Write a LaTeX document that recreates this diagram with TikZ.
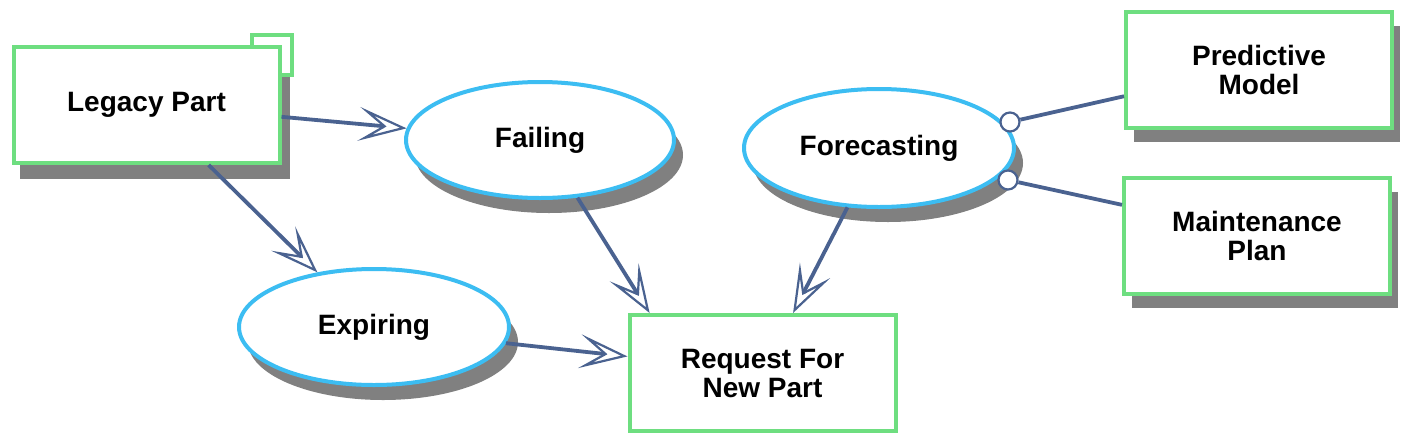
\documentclass[tikz,border=0pt]{standalone}
\usepackage{fontspec}
\setmainfont{Liberation Sans}
\usetikzlibrary{arrows.meta,shapes.geometric,shadows}
\definecolor{boxgreen}{HTML}{6EDE80}
\definecolor{ellcyan}{HTML}{3CBDF2}
\definecolor{linkblue}{HTML}{4A6290}
\definecolor{shadowgray}{HTML}{808080}
\pgfdeclarelayer{bg}
\pgfdeclarelayer{mid}
\pgfsetlayers{bg,mid,main}
\begin{document}
\begin{tikzpicture}[x=0.5pt,y=-0.5pt,
  font=\fontsize{14}{14.5}\selectfont\bfseries,
  objbox/.style={rectangle, draw=boxgreen, line width=2pt, fill=white,
    minimum width=133pt, minimum height=58pt, inner sep=0pt, align=center},
  boxshadow/.style={drop shadow={shadow xshift=4pt, shadow yshift=-7pt, fill=shadowgray, opacity=1}},
  procell/.style={ellipse, draw=ellcyan, line width=2pt, fill=white,
    minimum width=134pt, minimum height=58pt, inner sep=0pt,
    drop shadow={shadow xshift=4.5pt, shadow yshift=-7.5pt, fill=shadowgray, opacity=1}},
  link/.style={draw=linkblue, line width=1.9pt},
  arrowlink/.style={link, -{Stealth[open, length=24pt, width=17pt, inset=12pt, line width=1.1pt]}},
  knob/.style={circle, draw=linkblue, line width=1.1pt, fill=white, minimum size=9.5pt, inner sep=0pt}]
\useasboundingbox (0,0) rectangle (1407,445);

% objects
\node[objbox] (legacy) at (146.5,105) {Legacy Part};
\begin{pgfonlayer}{mid}
  \node[objbox, minimum width=20pt, minimum height=20pt] (legacytag) at (272,55) {};
\end{pgfonlayer}
\begin{pgfonlayer}{bg}
  \fill[shadowgray] ([shift={(4pt,-7pt)}]legacy.north west) rectangle ([shift={(4pt,-7pt)}]legacy.south east);
\end{pgfonlayer}

\node[objbox] (request) at (762.5,373) {Request For\\New Part};
\node[objbox, boxshadow] (predictive) at (1259,70) {Predictive\\Model};
\node[objbox, boxshadow] (maintenance) at (1257,236) {Maintenance\\Plan};

% processes
\node[procell] (failing) at (540,140) {Failing};
\node[procell, minimum width=135pt] (expiring) at (374,327) {Expiring};
\node[procell, minimum width=135pt, minimum height=59pt] (forecasting) at (879,148) {Forecasting};

% arrows
\draw[arrowlink] (legacy.-5.4) -- (failing.175.6);
\draw[arrowlink] (legacy.-44.3) -- (expiring.136);
\draw[arrowlink] (failing.-57.5) -- (request.152.2);
\draw[arrowlink] (forecasting.-118.7) -- (request.63.8);
\draw[arrowlink] (expiring.-7.3) -- (request.173.4);

% instrument links
\node[knob] (knobA) at ([shift={(65.5pt,13pt)}]forecasting.center) {};
\node[knob] (knobB) at ([shift={(64.5pt,-16pt)}]forecasting.center) {};
\draw[link] (knobA) -- (predictive.191.6);
\draw[link] (knobB) -- (maintenance.167.2);
\end{tikzpicture}
\end{document}
